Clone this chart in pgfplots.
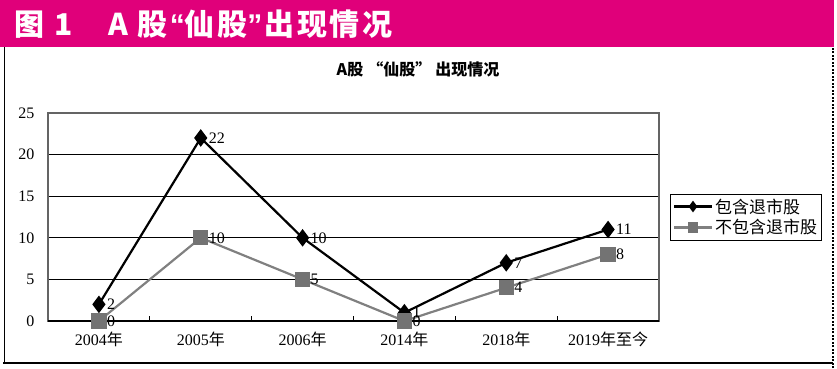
\documentclass[border=0pt]{standalone}
\usepackage{fontspec}
\setmainfont{Liberation Serif}
\newfontfamily\cjk{Noto Sans CJK SC}
\newfontfamily\lsans{Liberation Sans}
\usepackage{pgfplots}
\pgfplotsset{compat=1.18}
\definecolor{hdr}{RGB}{224,0,122}
\definecolor{axgray}{RGB}{100,100,100}
\definecolor{sergray}{RGB}{128,128,128}
\definecolor{mkgray}{RGB}{115,115,115}
\newcommand\hs{\hspace{2.5pt}}
\begin{document}
\begin{tikzpicture}[x=1pt,y=1pt]
\useasboundingbox (0,0) rectangle (837,368);
\fill[hdr] (0,321) rectangle (834,368);
\node[anchor=west, text=white, font=\cjk\bfseries\fontsize{30}{30}\selectfont, inner sep=0] at (14,344) {图\hspace{10pt}1\hspace{36pt}A\hspace{9pt}股{\lsans\bfseries\hs “}仙\hs 股{\lsans\bfseries ”\hs}出\hs 现\hs 情\hs 况};
\draw[line width=1pt] (4,321) -- (4,5);
\draw[line width=2.5pt] (3,5) -- (833,5);
\draw[line width=1.5pt, dash pattern=on 2pt off 1.5pt] (833,0) -- (833,321);
\node[font=\cjk\bfseries\fontsize{16}{16}\selectfont] at (418,299) {A股\hspace{4pt}“仙股”\hspace{4pt}出现情况};
\begin{axis}[
  at={(48pt,47pt)}, anchor=south west,
  scale only axis, width=611pt, height=208pt,
  xmin=-0.5, xmax=5.5, ymin=0, ymax=25,
  xtick={0,...,5},
  xticklabels={2004{\cjk 年},2005{\cjk 年},2006{\cjk 年},2014{\cjk 年},2018{\cjk 年},2019{\cjk 年至今}},
  minor xtick={-0.5,0.5,...,5.5},
  ytick={0,5,...,25},
  tick pos=left,
  major tick length=0pt, minor tick length=5pt, tick align=inside,
  tick style={black, line width=1pt},
  ymajorgrids, grid style={black, line width=1pt},
  axis line style={draw=axgray, line width=2.4pt},
  /pgf/number format/assume math mode=true,
  tick label style={font=\fontsize{16}{16}\selectfont},
  xticklabel style={yshift=-7pt},
  yticklabel style={xshift=-10pt},
  legend style={at={(1,0.5)}, anchor=west, xshift=11pt, draw=black, line width=0.8pt,
    font=\cjk\fontsize{17}{17}\selectfont, row sep=1pt, inner sep=2.5pt},
  legend cell align=left,
  legend image code/.code={\draw[mark repeat=2,mark phase=2,#1, mark size=4pt] plot coordinates {(0pt,0pt) (19pt,0pt) (38pt,0pt)};},
  nodes near coords,
  every node near coord/.append style={anchor=west, xshift=7pt, font=\fontsize{16}{16}\selectfont, inner sep=0pt},
]
\draw[black, line width=2pt] (axis cs:-0.5,0) -- (axis cs:5.5,0);
\addplot[black, line width=2.2pt, mark=diamond*, mark size=7pt, mark options={fill=black}]
  coordinates {(0,2) (1,22) (2,10) (3,1) (4,7) (5,11)};
\addlegendentry{包含退市股}
\addplot[sergray, line width=2.2pt, mark=square*, mark size=6.5pt, mark options={fill=mkgray, draw=mkgray}, every node near coord/.append style={text=black}]
  coordinates {(0,0) (1,10) (2,5) (3,0) (4,4) (5,8)};
\addlegendentry{不包含退市股}
\end{axis}
\end{tikzpicture}
\end{document}
